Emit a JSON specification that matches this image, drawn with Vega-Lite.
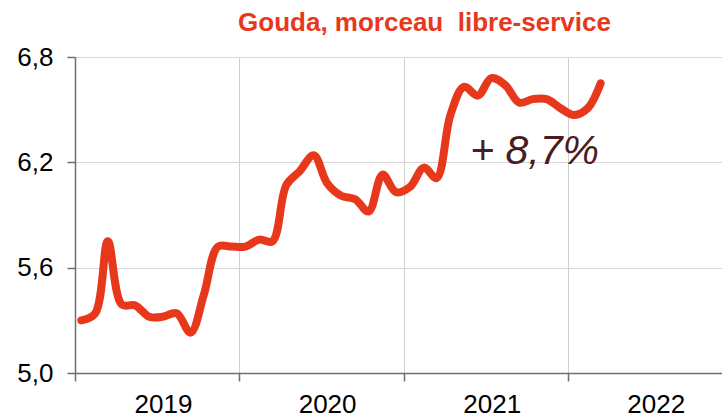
{
  "$schema": "https://vega.github.io/schema/vega-lite/v6.json",
  "width": 647,
  "height": 316,
  "autosize": {"type": "none"},
  "padding": {"left": 75, "top": 57, "right": 0, "bottom": 44},
  "background": "white",
  "title": {
    "text": "Gouda, morceau \u00a0libre-service",
    "font": "Liberation Sans",
    "fontSize": 26,
    "fontWeight": "bold",
    "color": "#e8381b",
    "anchor": "middle",
    "dx": 26,
    "offset": 8
  },
  "config": {
    "view": {"stroke": null},
    "font": "Liberation Sans"
  },
  "layer": [
    {
      "data": {
        "values": [
          {"date": "2019-01-15", "value": 5.30},
          {"date": "2019-02-15", "value": 5.34},
          {"date": "2019-03-15", "value": 5.75},
          {"date": "2019-04-15", "value": 5.39},
          {"date": "2019-05-15", "value": 5.385},
          {"date": "2019-06-15", "value": 5.32},
          {"date": "2019-07-15", "value": 5.32},
          {"date": "2019-08-15", "value": 5.34},
          {"date": "2019-09-15", "value": 5.23},
          {"date": "2019-10-15", "value": 5.45},
          {"date": "2019-11-15", "value": 5.72},
          {"date": "2019-12-15", "value": 5.72},
          {"date": "2020-01-15", "value": 5.72},
          {"date": "2020-02-15", "value": 5.76},
          {"date": "2020-03-15", "value": 5.75},
          {"date": "2020-04-15", "value": 6.07},
          {"date": "2020-05-15", "value": 6.15},
          {"date": "2020-06-15", "value": 6.24},
          {"date": "2020-07-15", "value": 6.08},
          {"date": "2020-08-15", "value": 6.01},
          {"date": "2020-09-15", "value": 5.99},
          {"date": "2020-10-15", "value": 5.92},
          {"date": "2020-11-15", "value": 6.13},
          {"date": "2020-12-15", "value": 6.03},
          {"date": "2021-01-15", "value": 6.06},
          {"date": "2021-02-15", "value": 6.17},
          {"date": "2021-03-15", "value": 6.11},
          {"date": "2021-04-15", "value": 6.47},
          {"date": "2021-05-15", "value": 6.63},
          {"date": "2021-06-15", "value": 6.58},
          {"date": "2021-07-15", "value": 6.68},
          {"date": "2021-08-15", "value": 6.64},
          {"date": "2021-09-15", "value": 6.54},
          {"date": "2021-10-15", "value": 6.56},
          {"date": "2021-11-15", "value": 6.56},
          {"date": "2021-12-15", "value": 6.51},
          {"date": "2022-01-15", "value": 6.47},
          {"date": "2022-02-15", "value": 6.51},
          {"date": "2022-03-15", "value": 6.65}
        ]
      },
      "mark": {
        "type": "line",
        "interpolate": "catmull-rom",
        "color": "#e8381b",
        "strokeWidth": 8,
        "strokeCap": "round",
        "strokeJoin": "round"
      },
      "encoding": {
        "x": {
          "field": "date",
          "type": "temporal",
          "scale": {
            "type": "utc",
            "domain": [
              {"year": 2019, "month": 1, "date": 1, "utc": true},
              {"year": 2022, "month": 12, "date": 10, "utc": true}
            ]
          },
          "axis": {
            "title": null,
            "tickCount": {"interval": "year", "step": 1},
            "labelExpr": "utcFormat(datum.value, '%Y')",
            "labelOffset": 88,
            "labelAlign": "center",
            "labelBaseline": "top",
            "labelFontSize": 26,
            "labelColor": "#000000",
            "labelPadding": 10,
            "labelBound": false,
            "labelFlush": false,
            "labelOverlap": false,
            "tickSize": 8,
            "tickColor": "#6e6e6e",
            "tickWidth": 1.5,
            "domainColor": "#6e6e6e",
            "domainWidth": 1.5,
            "grid": true,
            "gridColor": "#cfcfcf",
            "gridWidth": 1
          }
        },
        "y": {
          "field": "value",
          "type": "quantitative",
          "scale": {"domain": [5.0, 6.8], "nice": false, "zero": false},
          "axis": {
            "title": null,
            "values": [5.0, 5.6, 6.2, 6.8],
            "labelExpr": "replace(format(datum.value, '.1f'), '.', ',')",
            "labelFontSize": 26,
            "labelColor": "#000000",
            "labelPadding": 14,
            "tickSize": 8,
            "tickColor": "#6e6e6e",
            "tickWidth": 1.5,
            "domainColor": "#6e6e6e",
            "domainWidth": 1.5,
            "grid": true,
            "gridColor": "#d6d6d6",
            "gridWidth": 1
          }
        }
      }
    },
    {
      "data": {"values": [{"date": "2021-05-29", "value": 6.19, "label": "+ 8,7%"}]},
      "mark": {
        "type": "text",
        "align": "left",
        "baseline": "alphabetic",
        "fontSize": 41,
        "fontStyle": "italic",
        "color": "#4a1c1c"
      },
      "encoding": {
        "x": {"field": "date", "type": "temporal"},
        "y": {"field": "value", "type": "quantitative"},
        "text": {"field": "label"}
      }
    }
  ]
}
